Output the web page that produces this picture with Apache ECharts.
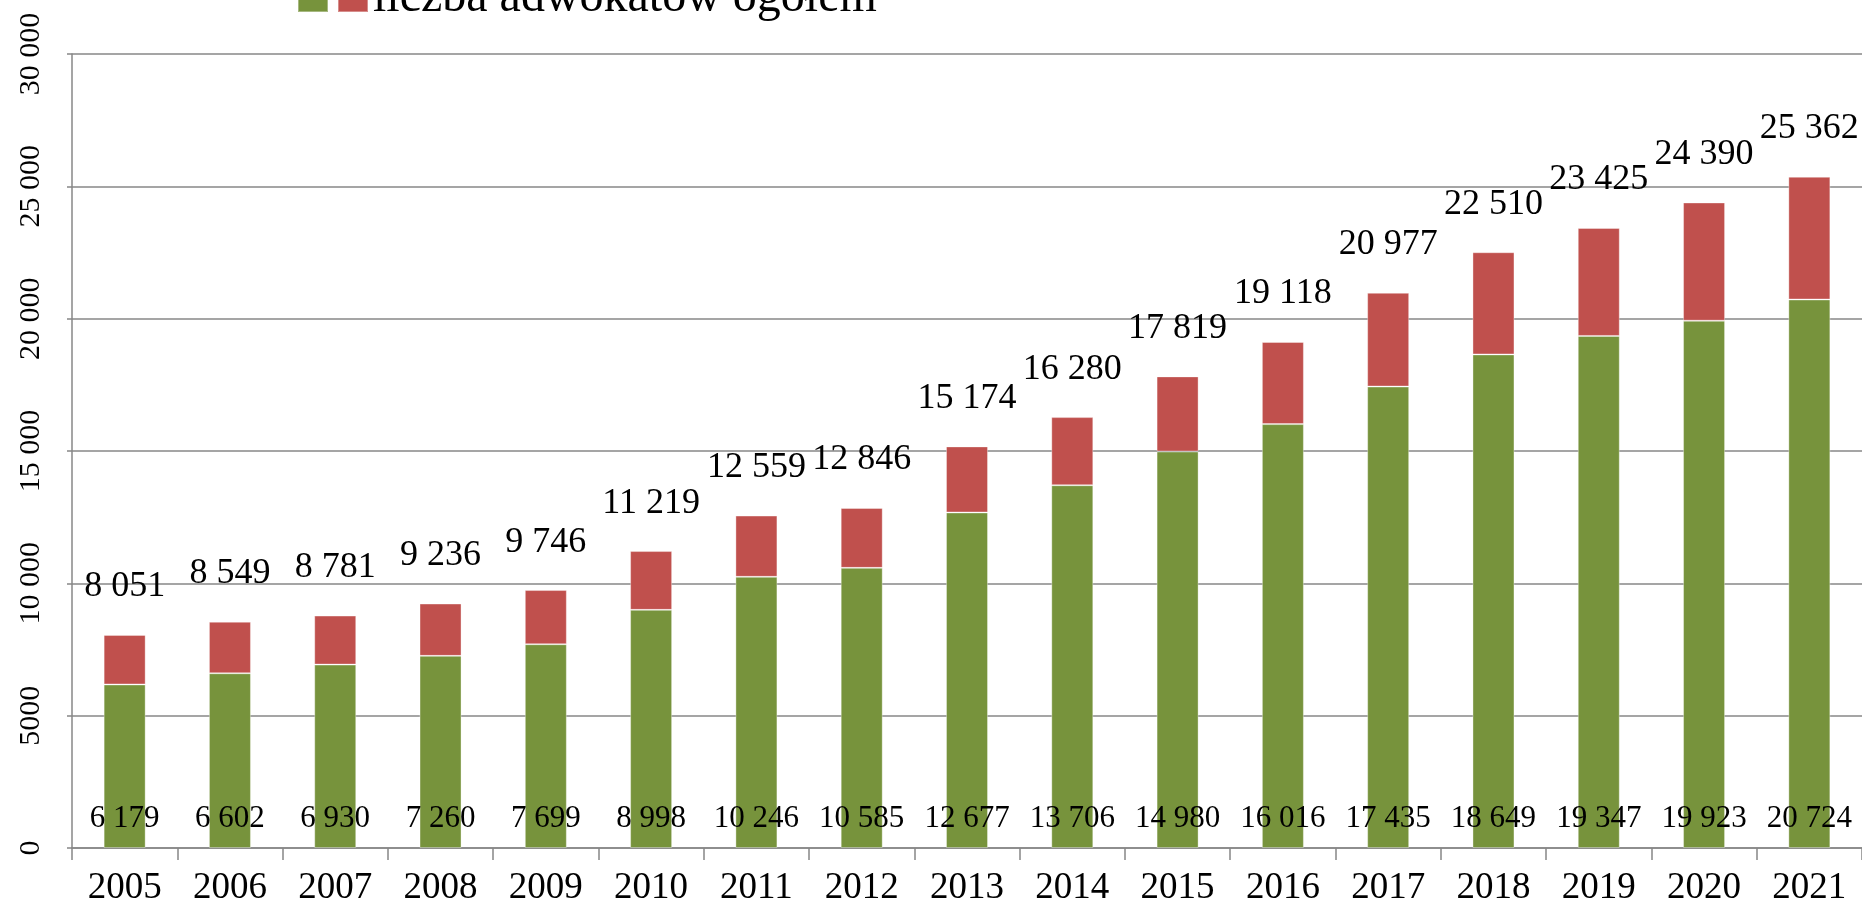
<!DOCTYPE html>
<html lang="pl">
<head>
<meta charset="utf-8">
<title>Liczba adwokatów</title>
<script src="https://cdn.jsdelivr.net/npm/echarts@6/dist/echarts.min.js"></script>
<style>
	html, body { margin: 0; padding: 0; background: #fff; overflow: hidden; }
	#chart { width: 1862px; height: 909px; }
</style>
</head>
<body>
<div id="chart"></div>
<script>
// lata
var years = ['2005','2006','2007','2008','2009','2010','2011','2012','2013','2014','2015','2016','2017','2018','2019','2020','2021'];
// adwokaci wykonujący zawód (zielony)
var practising = [6179, 6602, 6930, 7260, 7699, 8998, 10246, 10585, 12677, 13706, 14980, 16016, 17435, 18649, 19347, 19923, 20724];
// liczba adwokatów ogółem
var totals = [8051, 8549, 8781, 9236, 9746, 11219, 12559, 12846, 15174, 16280, 17819, 19118, 20977, 22510, 23425, 24390, 25362];
// opisy osi Y
var yTicks = ['0', '5000', '10 000', '15 000', '20 000', '25 000', '30 000'];

var greenName = 'liczba adwokatów wykonujących zawód';
var redName = 'liczba adwokatów ogółem';

// reszta do sumy ogółem
var rest = [];
for (var i = 0; i < totals.length; i++) {
	rest.push(totals[i] - practising[i]);
}

function fmt(v) {
	return String(v).replace(/\B(?=(\d{3})+(?!\d))/g, ' ');
}

var font = "'Liberation Serif', 'Times New Roman', serif";
var gridColor = '#878787';

var myChart = echarts.init(document.getElementById('chart'));
var option = {
	animation: false,
	textStyle: { fontFamily: font, color: '#000' },
	legend: {
		left: 292,
		top: -31,
		itemWidth: 30,
		itemHeight: 28,
		itemGap: 8,
		icon: 'rect',
		textStyle: { fontFamily: font, fontSize: 48, color: '#000' },
		formatter: function (name) {
			return name === greenName ? '' : name;
		},
		data: [greenName, redName]
	},
	grid: { left: 72, top: 54, width: 1795, height: 794 },
	xAxis: {
		type: 'category',
		data: years,
		axisLine: { lineStyle: { color: gridColor, width: 1.5 } },
		axisTick: { show: true, interval: 0, length: 12, lineStyle: { color: gridColor, width: 1.5 } },
		axisLabel: { interval: 0, margin: 22, fontFamily: font, fontSize: 37, color: '#000' }
	},
	yAxis: {
		type: 'value',
		min: 0,
		max: 30000,
		interval: 5000,
		axisLine: { show: true, lineStyle: { color: gridColor, width: 1.5 } },
		axisTick: { show: true, length: 5, lineStyle: { color: gridColor, width: 1.5 } },
		splitLine: { lineStyle: { color: gridColor, width: 1.5 } },
		axisLabel: {
			rotate: 90,
			margin: 26,
			fontFamily: font,
			fontSize: 30,
			color: '#000',
			formatter: function (v) {
				return yTicks[Math.round(v / 5000)];
			}
		}
	},
	series: [
		{
			name: greenName,
			type: 'bar',
			stack: 'a',
			barWidth: 42,
			itemStyle: { color: '#77933C', borderColor: 'rgba(255,255,255,0.35)', borderWidth: 1 },
			label: {
				show: true,
				position: 'insideBottom',
				distance: 14,
				fontFamily: font,
				fontSize: 31,
				color: '#000',
				formatter: function (p) { return fmt(practising[p.dataIndex]); }
			},
			data: practising
		},
		{
			name: redName,
			type: 'bar',
			stack: 'a',
			barWidth: 42,
			itemStyle: { color: '#C0504D', borderColor: 'rgba(255,255,255,0.35)', borderWidth: 1 },
			label: {
				show: true,
				position: 'top',
				distance: 30,
				fontFamily: font,
				fontSize: 36,
				color: '#000',
				formatter: function (p) { return fmt(totals[p.dataIndex]); }
			},
			data: rest
		}
	]
};
myChart.setOption(option);
</script>
</body>
</html>
